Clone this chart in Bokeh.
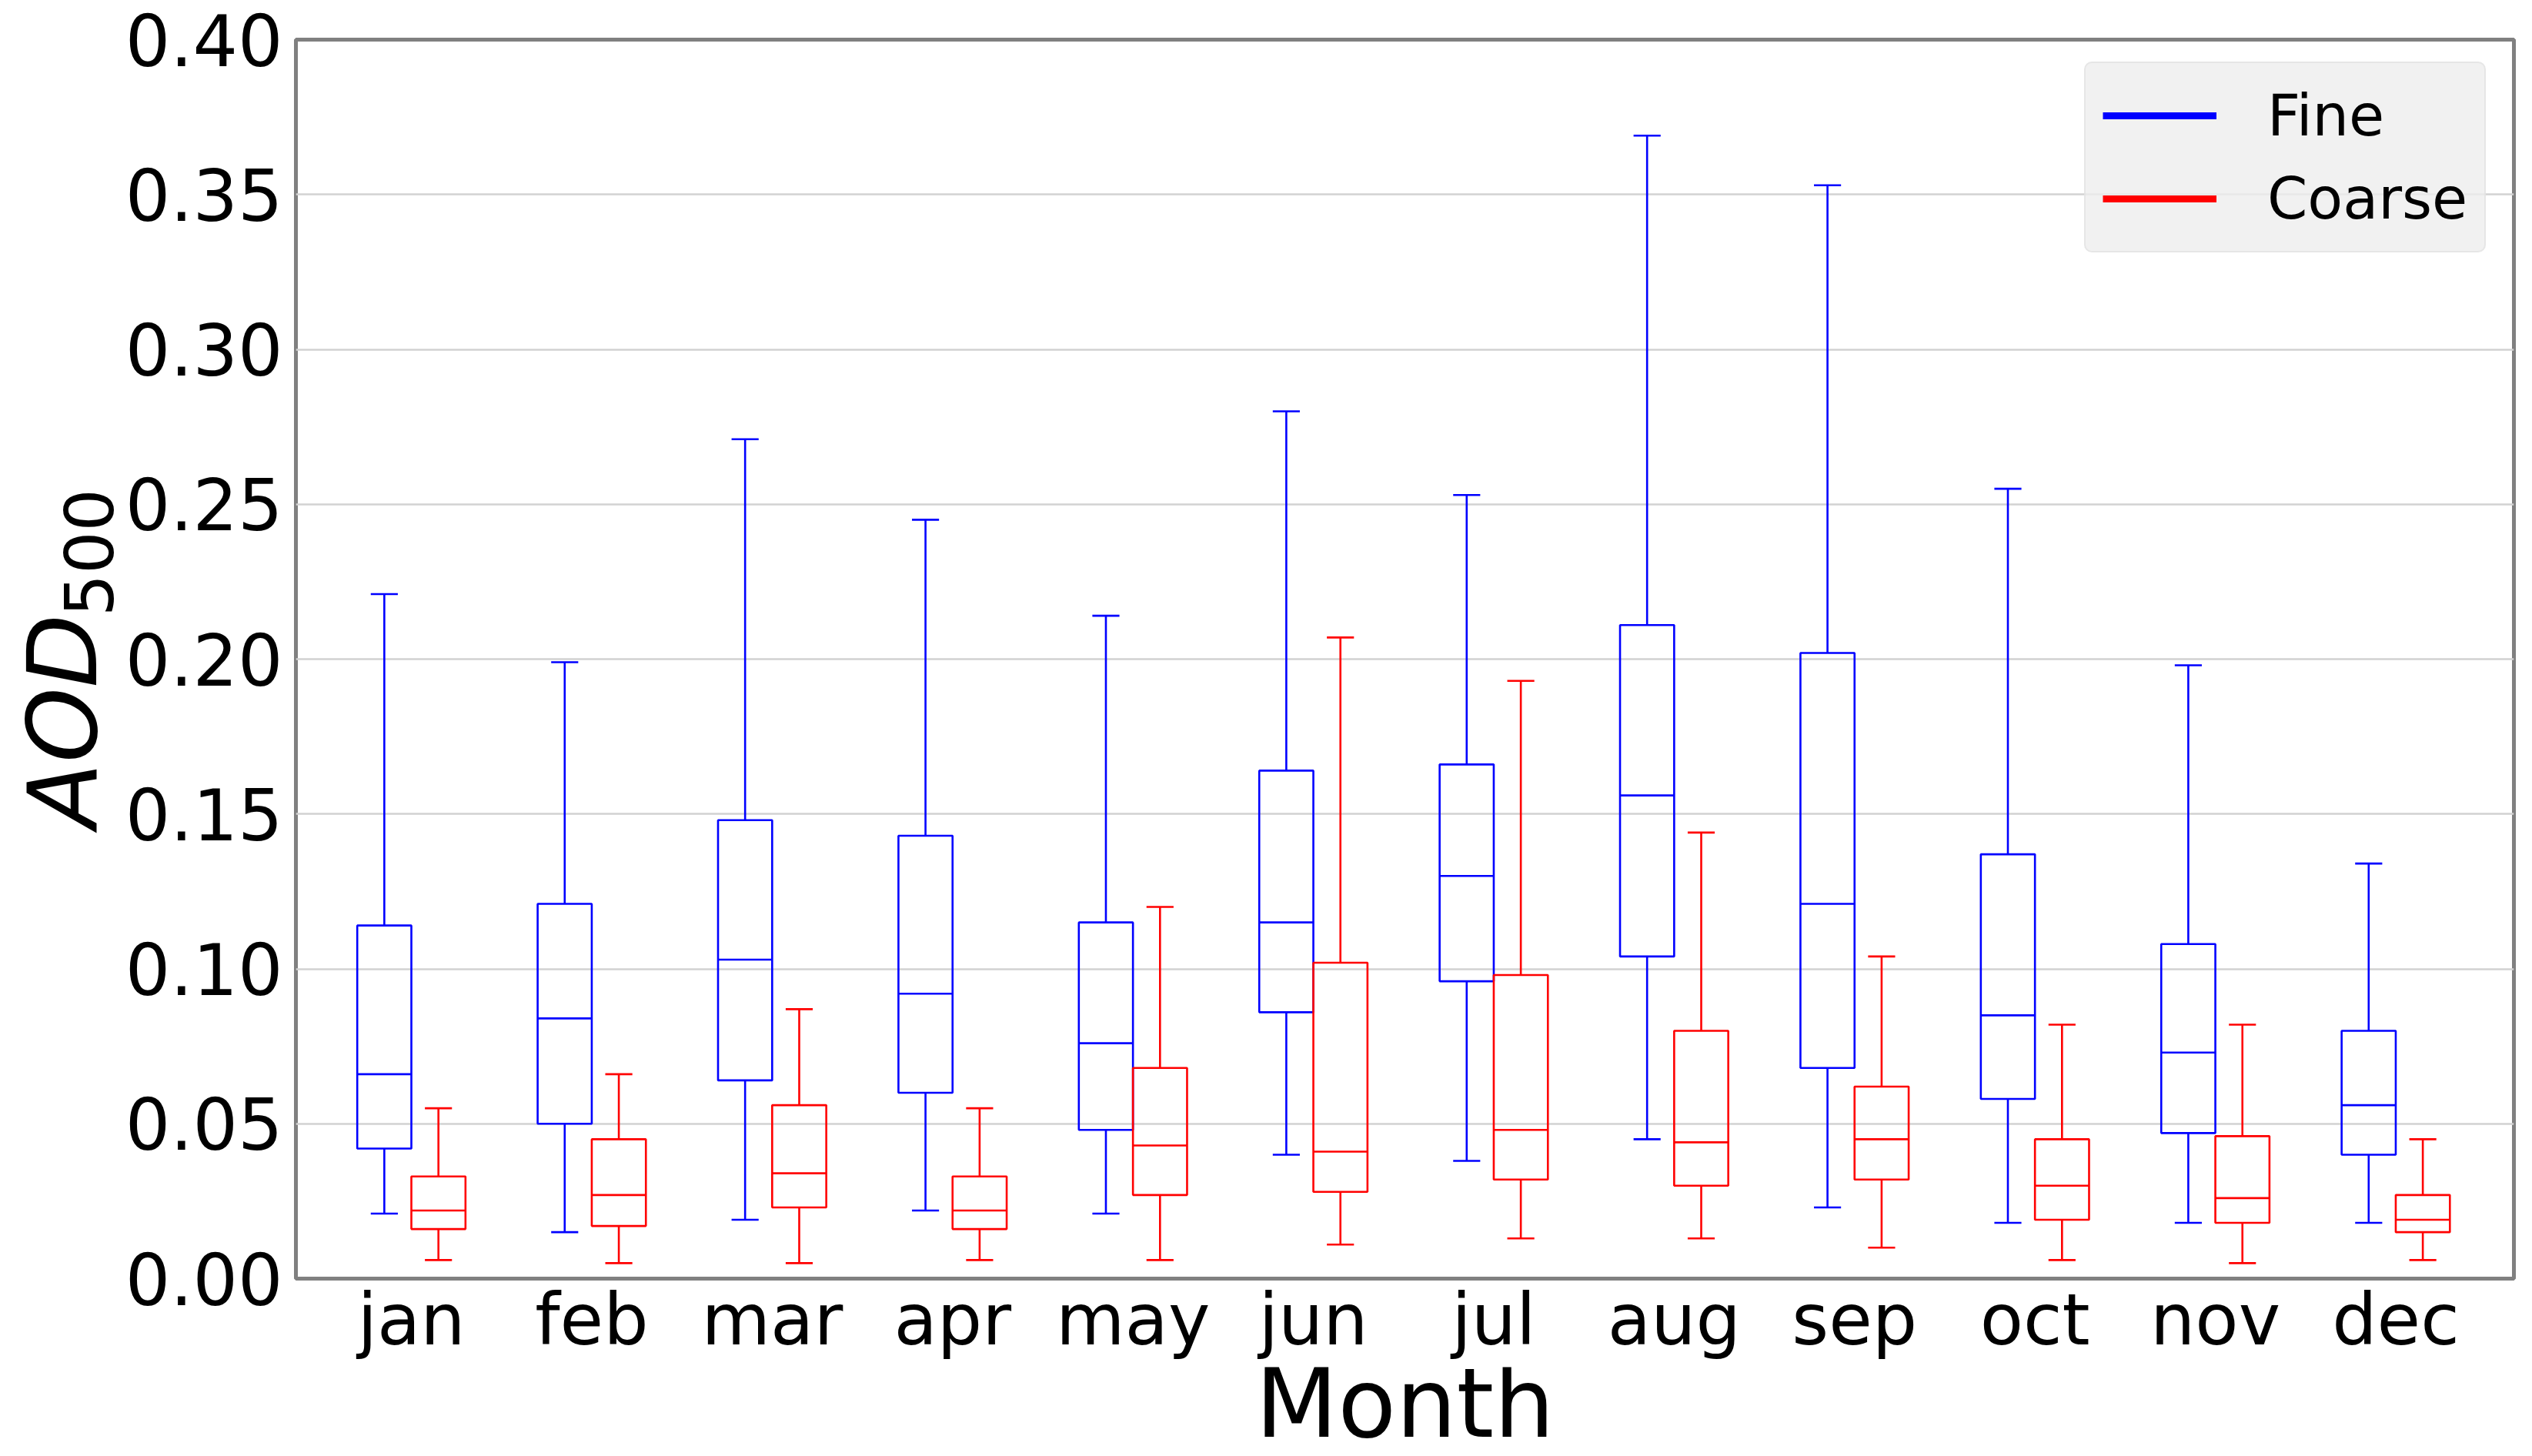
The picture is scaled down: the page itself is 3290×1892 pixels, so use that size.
import math
from bokeh.plotting import figure
from bokeh.layouts import row, column
from bokeh.models import (Range1d, FixedTicker, ColumnDataSource, Legend, LegendItem, Label)
from bokeh.embed import file_html
from bokeh.resources import INLINE

months = ["jan", "feb", "mar", "apr", "may", "jun", "jul", "aug", "sep", "oct", "nov", "dec"]
y_ticks = [0.00, 0.05, 0.10, 0.15, 0.20, 0.25, 0.30, 0.35, 0.40]

fine_hi = [0.221, 0.199, 0.271, 0.245, 0.214, 0.280, 0.253, 0.369, 0.353, 0.255, 0.198, 0.134]
fine_q3 = [0.114, 0.121, 0.148, 0.143, 0.115, 0.164, 0.166, 0.211, 0.202, 0.137, 0.108, 0.080]
fine_med = [0.066, 0.084, 0.103, 0.092, 0.076, 0.115, 0.130, 0.156, 0.121, 0.085, 0.073, 0.056]
fine_q1 = [0.042, 0.050, 0.064, 0.060, 0.048, 0.086, 0.096, 0.104, 0.068, 0.058, 0.047, 0.040]
fine_lo = [0.021, 0.015, 0.019, 0.022, 0.021, 0.040, 0.038, 0.045, 0.023, 0.018, 0.018, 0.018]

coarse_hi = [0.055, 0.066, 0.087, 0.055, 0.120, 0.207, 0.193, 0.144, 0.104, 0.082, 0.082, 0.045]
coarse_q3 = [0.033, 0.045, 0.056, 0.033, 0.068, 0.102, 0.098, 0.080, 0.062, 0.045, 0.046, 0.027]
coarse_med = [0.022, 0.027, 0.034, 0.022, 0.043, 0.041, 0.048, 0.044, 0.045, 0.030, 0.026, 0.019]
coarse_q1 = [0.016, 0.017, 0.023, 0.016, 0.027, 0.028, 0.032, 0.030, 0.032, 0.019, 0.018, 0.015]
coarse_lo = [0.006, 0.005, 0.005, 0.006, 0.006, 0.011, 0.013, 0.013, 0.010, 0.006, 0.005, 0.006]

FONT = "DejaVu Sans"
X0, X1 = 0.36, 12.655
Y0, Y1 = 0.0, 0.40

TOTAL_W = 3282
TOTAL_H = 1884
LEFT_W = 152          # strip holding the y title
MAIN_H = 1776         # main plot height
FRAME_L, FRAME_R, FRAME_T, FRAME_B = 384, 3266, 51, 1661

p = figure(width=TOTAL_W - LEFT_W, height=MAIN_H, output_backend="svg", toolbar_location=None,
           x_range=Range1d(X0, X1), y_range=Range1d(Y0, Y1),
           min_border_left=FRAME_L - LEFT_W, min_border_right=TOTAL_W - FRAME_R,
           min_border_top=FRAME_T, min_border_bottom=MAIN_H - FRAME_B)
p.background_fill_color = "white"
p.border_fill_color = "white"
p.outline_line_color = "#808080"
p.outline_line_width = 5

p.xaxis.ticker = FixedTicker(ticks=list(range(1, 13)))
p.xaxis.major_label_overrides = {i + 1: m for i, m in enumerate(months)}
p.yaxis.ticker = FixedTicker(ticks=y_ticks)
p.yaxis.major_label_overrides = {t: f"{t:.2f}" for t in y_ticks}
for ax in (p.xaxis[0], p.yaxis[0]):
    ax.axis_line_color = None
    ax.major_tick_line_color = None
    ax.minor_tick_line_color = None
    ax.major_tick_out = 0
    ax.major_tick_in = 0
    ax.major_label_text_font = FONT
    ax.major_label_text_font_size = "92px"
    ax.major_label_text_color = "black"
p.xaxis.major_label_standoff = 0
p.yaxis.major_label_standoff = 17

p.xgrid.visible = False
p.ygrid.ticker = FixedTicker(ticks=y_ticks)
p.ygrid.grid_line_color = "#d2d2d2"
p.ygrid.grid_line_width = 2.5

W = 0.3      # box width
CAP = 0.075  # half cap width
LW = 2.6


def draw(series, offset, color):
    hi, q3, med, q1, lo = series
    xs = [i + 1 + offset for i in range(len(months))]
    src = ColumnDataSource(dict(
        x=xs, l=[x - W / 2 for x in xs], r=[x + W / 2 for x in xs],
        cl=[x - CAP for x in xs], cr=[x + CAP for x in xs],
        hi=hi, q3=q3, med=med, q1=q1, lo=lo))
    p.quad(left="l", right="r", bottom="q1", top="q3", source=src,
           fill_color=None, line_color=color, line_width=LW)
    p.segment(x0="x", y0="q3", x1="x", y1="hi", source=src, line_color=color, line_width=LW)
    p.segment(x0="x", y0="q1", x1="x", y1="lo", source=src, line_color=color, line_width=LW)
    p.segment(x0="cl", y0="hi", x1="cr", y1="hi", source=src, line_color=color, line_width=LW)
    p.segment(x0="cl", y0="lo", x1="cr", y1="lo", source=src, line_color=color, line_width=LW)
    p.segment(x0="l", y0="med", x1="r", y1="med", source=src, line_color=color, line_width=LW)


draw((fine_hi, fine_q3, fine_med, fine_q1, fine_lo), -W / 2, "#0000ff")
draw((coarse_hi, coarse_q3, coarse_med, coarse_q1, coarse_lo), W / 2, "#ff0000")

# legend (proxy lines carry no visible data)
nan = float("nan")
r_fine = p.line(x="x", y="y", source=ColumnDataSource(dict(x=[nan], y=[nan])),
                line_color="#0000ff", line_width=9)
r_coarse = p.line(x="x", y="y", source=ColumnDataSource(dict(x=[nan], y=[nan])),
                  line_color="#ff0000", line_width=9)
LEG_H = 2 * 22 + 2 * 92 + 16
legend = Legend(items=[LegendItem(label="Fine", renderers=[r_fine]),
                       LegendItem(label="Coarse", renderers=[r_coarse])],
                location=(2708 - FRAME_L, FRAME_B - 84 - LEG_H), padding=22, spacing=16,
                glyph_width=148, glyph_height=92, label_height=92, label_standoff=66,
                label_text_font=FONT, label_text_font_size="75px", label_text_color="black",
                background_fill_color="#eeeeee", background_fill_alpha=0.8,
                border_line_color="#dcdcdc", border_line_width=2)
if "border_radius" in Legend.properties():
    legend.border_radius = 10
p.add_layout(legend)

# left strip with the y title (italic AOD with subscript 500)
left = figure(width=LEFT_W, height=MAIN_H, output_backend="svg", toolbar_location=None,
              x_range=Range1d(0, LEFT_W), y_range=Range1d(0, MAIN_H),
              x_axis_type=None, y_axis_type=None, min_border=0)
left.outline_line_color = None
left.background_fill_color = "white"
left.border_fill_color = "white"
left.add_layout(Label(x=81, y=MAIN_H - 1130, text="AOD", angle=math.pi / 2,
                      text_font=FONT, text_font_style="italic", text_font_size="124px",
                      text_align="left", text_baseline="alphabetic", text_color="black"))
left.add_layout(Label(x=114, y=MAIN_H - 827, text="500", angle=math.pi / 2,
                      text_font=FONT, text_font_size="87px",
                      text_align="left", text_baseline="alphabetic", text_color="black"))

# bottom strip with the x title
BOT_H = TOTAL_H - MAIN_H
bottom = figure(width=TOTAL_W, height=BOT_H, output_backend="svg", toolbar_location=None,
                x_range=Range1d(0, TOTAL_W), y_range=Range1d(0, BOT_H),
                x_axis_type=None, y_axis_type=None, min_border=0)
bottom.outline_line_color = None
bottom.background_fill_color = "white"
bottom.border_fill_color = "white"
bottom.add_layout(Label(x=(FRAME_L + FRAME_R) / 2, y=BOT_H - (1868 - MAIN_H) + 45, text="Month",
                        text_font=FONT, text_font_size="124px",
                        text_align="center", text_baseline="alphabetic", text_color="black"))

layout = column(row(left, p, spacing=0), bottom, spacing=0)
open("out.html", "w").write(file_html(layout, INLINE))
